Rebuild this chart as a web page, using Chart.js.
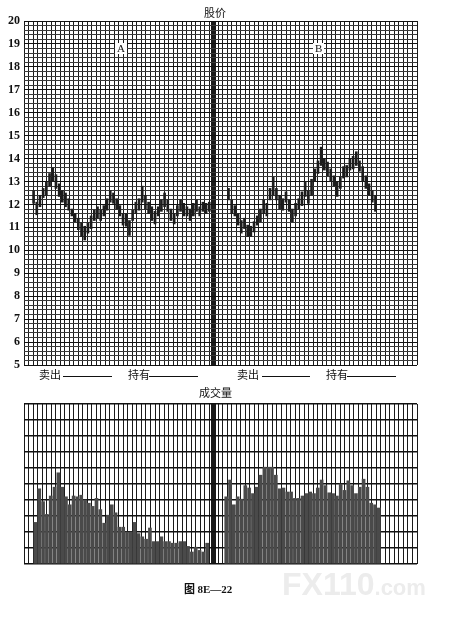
<!DOCTYPE html>
<html>
<head>
<meta charset="utf-8">
<script src="https://cdn.jsdelivr.net/npm/chart.js@4.4.1/dist/chart.umd.min.js"></script>
<style>
  body { margin: 0; background: #fff; }
  #page { position: relative; width: 449px; height: 624px; overflow: hidden; font-family: "Noto Sans CJK SC", "Liberation Serif", serif; color: #111; }
  canvas { position: absolute; left: 0; }
  .txt { position: absolute; font-size: 11px; line-height: 12px; white-space: nowrap; }
  .box { position: absolute; background: #fff; font-family: "Liberation Serif", serif; font-size: 11px; line-height: 11px; padding: 0 2px; }
  .blank { position: absolute; height: 0; border-bottom: 1px solid #111; }
</style>
</head>
<body>
<div id="page">
  <canvas id="priceChart" width="449" height="380" style="top:0"></canvas>
  <canvas id="volumeChart" width="449" height="172" style="top:395px"></canvas>

  <div class="txt" style="left:204px;top:6px;">股价</div>
  <div class="box" style="left:115px;top:43px;">A</div>
  <div class="box" style="left:313px;top:43px;">B</div>

  <div class="txt" style="left:39px;top:368px;">卖出</div>
  <div class="blank" style="left:63px;top:376px;width:49px;"></div>
  <div class="txt" style="left:128px;top:368px;">持有</div>
  <div class="blank" style="left:149px;top:376px;width:49px;"></div>
  <div class="txt" style="left:237px;top:368px;">卖出</div>
  <div class="blank" style="left:262px;top:376px;width:48px;"></div>
  <div class="txt" style="left:326px;top:368px;">持有</div>
  <div class="blank" style="left:347px;top:376px;width:49px;"></div>

  <div class="txt" style="left:199px;top:386px;">成交量</div>

  <div class="txt" style="left:282px;top:568px;font-family:'Liberation Sans',sans-serif;font-weight:bold;font-size:32px;line-height:32px;color:#ececec;">FX110<span style="font-size:22px;">.com</span></div>
  <div class="txt" style="left:184px;top:582px;font-weight:bold;">图 <span style="font-family:'Liberation Serif',serif;">8E—22</span></div>
</div>

<script>
// price range per day (low / high), panel A and panel B
const highsA = [12.6, 12.1, 12.4, 12.7, 13.0, 13.35, 13.6, 13.3, 12.9, 12.6, 12.5, 12.25, 11.8, 11.6, 11.4, 11.2, 11.05, 11.2, 11.5, 11.75,
  11.9, 11.75, 11.95, 12.25, 12.6, 12.5, 12.25, 11.95, 11.6, 11.6, 11.3, 11.75, 12.1, 12.25, 12.8, 12.4, 12.1, 11.9, 11.7, 11.9,
  12.2, 12.5, 12.2, 11.8, 11.6, 11.95, 12.2, 12.05, 11.9, 11.8, 12.05, 12.2, 11.9, 12.1, 12.05, 12.1];
const lowsA = [12.05, 11.55, 11.9, 12.3, 12.4, 12.8, 13.0, 12.7, 12.35, 12.1, 11.9, 11.75, 11.5, 11.25, 10.9, 10.6, 10.45, 10.75, 10.95, 11.3,
  11.4, 11.3, 11.5, 11.75, 12.1, 12.05, 11.8, 11.5, 11.1, 11.05, 10.65, 11.3, 11.6, 11.75, 12.1, 11.8, 11.6, 11.3, 11.15, 11.5,
  11.7, 11.9, 11.7, 11.3, 11.15, 11.5, 11.7, 11.5, 11.5, 11.3, 11.5, 11.7, 11.5, 11.7, 11.6, 11.7];
const highsB = [12.7, 12.2, 11.95, 11.6, 11.3, 11.4, 11.1, 11.05, 11.25, 11.5, 11.8, 12.2, 12.05, 12.7, 13.2, 12.7, 12.4, 12.25, 12.55, 12.2,
  11.8, 12.05, 12.25, 12.55, 13.0, 12.6, 13.1, 13.55, 13.9, 14.5, 14.0, 13.85, 13.55, 13.25, 13.0, 13.2, 13.65, 13.7, 14.0, 14.1,
  14.3, 13.9, 13.65, 13.25, 12.9, 12.6, 12.4];
const lowsB = [12.2, 11.6, 11.5, 11.1, 10.75, 10.95, 10.6, 10.6, 10.8, 11.1, 11.25, 11.6, 11.5, 12.2, 12.4, 12.2, 11.8, 11.75, 12.1, 11.7,
  11.25, 11.5, 11.8, 11.95, 12.35, 12.05, 12.4, 13.0, 13.35, 13.7, 13.5, 13.25, 13.0, 12.8, 12.35, 12.7, 13.15, 13.2, 13.5, 13.55,
  13.7, 13.45, 13.0, 12.7, 12.4, 12.1, 11.7];

// trading volume (grid units 0-10)
const volumeA = [2.6, 4.7, 3.9, 3.1, 4.25, 4.8, 5.7, 4.8, 4.2, 3.7, 4.25, 4.2, 4.3, 4.0, 3.8, 3.6, 4.1, 3.4, 2.55, 3.05,
  3.7, 3.2, 2.3, 2.3, 2.0, 2.0, 2.6, 1.9, 1.7, 1.55, 2.25, 1.4, 1.4, 1.7, 1.4, 1.4, 1.3, 1.3, 1.4, 1.4,
  1.1, 0.75, 1.05, 0.85, 0.75, 1.3];
const volumeB = [4.2, 5.25, 3.7, 4.2, 4.05, 4.9, 4.75, 4.4, 4.8, 5.55, 6.05, 6.05, 6.05, 5.55, 4.7, 4.75, 4.5, 4.5, 4.1, 4.1,
  4.25, 4.4, 4.5, 4.4, 4.75, 5.25, 4.9, 4.45, 4.4, 4.25, 5.0, 4.6, 5.2, 4.9, 4.4, 4.8, 5.3, 4.8, 3.8, 3.7, 3.5];

// axes
const priceMin = 5, priceMax = 20, priceStep = 0.2;
const priceDays = 123, priceStartA = 3, priceStartB = 64;
const volumeDays = 103, volumeStartA = 3, volumeStartB = 53;
const gridColumns = 87, dividerColumn = 42;

const isWhole = v => Math.abs(v - Math.round(v)) < 1e-6;

function rangeData(start, lows, highs) {
    return lows.map((lo, i) => ({ x: start + i, y: [lo, highs[i]] }));
}
function volumeData(start, values) {
    return values.map((v, i) => ({ x: start + i, y: v }));
}

// shared fine grid across the panels, thick rule between A and B
function columnGrid(onTop) {
    return {
        type: 'linear', position: 'bottom', min: 0, max: gridColumns,
        offset: false,
        z: onTop ? 1 : 0,
        ticks: { display: false, stepSize: 1 },
        grid: {
            drawTicks: false,
            offset: false,
            color: '#1a1a1a',
            lineWidth: ctx => ctx.tick && ctx.tick.value === dividerColumn ? 5 : 1
        },
        border: { display: false },
        afterFit: scale => { scale.height = 0; }
    };
}

Chart.defaults.font.family = "'Liberation Serif', serif";
Chart.defaults.color = '#111';

new Chart(document.getElementById('priceChart'), {
    type: 'bar',
    data: {
        datasets: [
            { data: rangeData(priceStartA, lowsA, highsA), backgroundColor: '#1c1c1c', barThickness: 2, grouped: false },
            { data: rangeData(priceStartB, lowsB, highsB), backgroundColor: '#1c1c1c', barThickness: 2, grouped: false }
        ]
    },
    options: {
        responsive: false,
        animation: false,
        devicePixelRatio: 1,
        layout: { padding: { top: 21, right: 32, bottom: 15, left: 0 } },
        plugins: { legend: { display: false }, tooltip: { enabled: false } },
        scales: {
            x: { type: 'linear', min: 0, max: priceDays, offset: false, display: false },
            xg: columnGrid(false),
            y: {
                min: priceMin, max: priceMax,
                ticks: {
                    stepSize: priceStep, autoSkip: false, padding: 4,
                    font: { size: 12, weight: 'bold' },
                    callback: v => isWhole(v) ? String(Math.round(v)) : ''
                },
                grid: {
                    drawTicks: false,
                    color: ctx => isWhole(ctx.tick.value) ? '#111' : '#3a3a3a'
                },
                border: { display: false },
                afterFit: scale => { scale.width = 24; }
            }
        }
    }
});

new Chart(document.getElementById('volumeChart'), {
    type: 'bar',
    data: {
        datasets: [
            { data: volumeData(volumeStartA, volumeA), backgroundColor: '#4a4a4a', barThickness: 3, grouped: false },
            { data: volumeData(volumeStartB, volumeB), backgroundColor: '#4a4a4a', barThickness: 3, grouped: false }
        ]
    },
    options: {
        responsive: false,
        animation: false,
        devicePixelRatio: 1,
        layout: { padding: { top: 9, right: 32, bottom: 3, left: 0 } },
        plugins: { legend: { display: false }, tooltip: { enabled: false } },
        scales: {
            x: { type: 'linear', min: 0, max: volumeDays, offset: false, display: false },
            xg: columnGrid(true),
            y: {
                min: 0, max: 10, z: 1,
                ticks: { display: false, stepSize: 1 },
                grid: { drawTicks: false, color: '#111', lineWidth: 1.5 },
                border: { display: false },
                afterFit: scale => { scale.width = 24; }
            }
        }
    }
});
</script>
</body>
</html>
